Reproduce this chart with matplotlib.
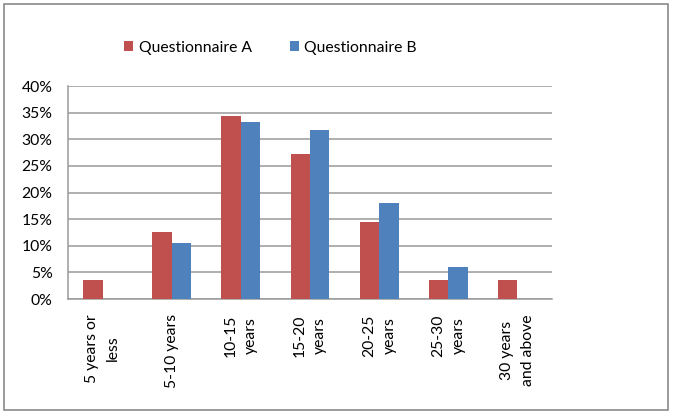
import matplotlib.pyplot as plt
from matplotlib.patches import Rectangle
from matplotlib.ticker import PercentFormatter
import numpy as np

categories = ['5 years or\nless', '5-10 years', '10-15\nyears', '15-20\nyears',
              '20-25\nyears', '25-30\nyears', '30 years\nand above']
quest_a = [3.6, 12.6, 34.3, 27.2, 14.4, 3.6, 3.6]
quest_b = [0.0, 10.6, 33.2, 31.8, 18.1, 6.0, 0.0]
series_names = ['Questionnaire A', 'Questionnaire B']

col_a = '#C0504D'
col_b = '#4F81BD'
grid_col = '#9a9a9a'

plt.rcParams['font.family'] = ['Lato', 'DejaVu Sans']
fsize = 11.3

fig = plt.figure(figsize=(6.73, 4.15), dpi=100)
ax = fig.add_axes([68 / 673, 1 - 299 / 415, (552 - 68) / 673, (299 - 86) / 415])

x = np.arange(len(categories))
w = 0.28
ax.bar(x - w / 2, quest_a, w, color=col_a, label=series_names[0], zorder=3)
ax.bar(x + w / 2, quest_b, w, color=col_b, label=series_names[1], zorder=3)

ax.set_xlim(-0.5, len(categories) - 0.5)
ax.set_ylim(0, 40)
ax.set_yticks(np.arange(0, 41, 5))
ax.yaxis.set_major_formatter(PercentFormatter(decimals=0))
ax.yaxis.grid(True, color=grid_col, lw=1.1, zorder=0)
ax.set_xticks(x)
ax.set_xticklabels(categories, rotation=90, va='top', ha='center',
                   multialignment='center', linespacing=1.6, fontsize=fsize)
ax.tick_params(axis='x', length=0, pad=11)
ax.tick_params(axis='y', length=0, pad=11, labelsize=fsize)

for s in ['top', 'right']:
    ax.spines[s].set_visible(False)
ax.spines['left'].set_color(grid_col)
ax.spines['bottom'].set_color(grid_col)
ax.spines['left'].set_linewidth(1.1)
ax.spines['bottom'].set_linewidth(1.1)

fig.legend(loc='center left', bbox_to_anchor=(124 / 673, 1 - 48 / 415),
           bbox_transform=fig.transFigure, ncol=2, frameon=False,
           fontsize=fsize, handlelength=0.6, handleheight=0.6,
           handletextpad=0.35, columnspacing=2.4, borderpad=0, borderaxespad=0)

fig.patches.append(Rectangle((4 / 673, 5 / 415), 664 / 673, 406 / 415,
                             transform=fig.transFigure, fill=False,
                             edgecolor='#8a8a8a', lw=1.2))

fig.savefig('out.png', dpi=100)
